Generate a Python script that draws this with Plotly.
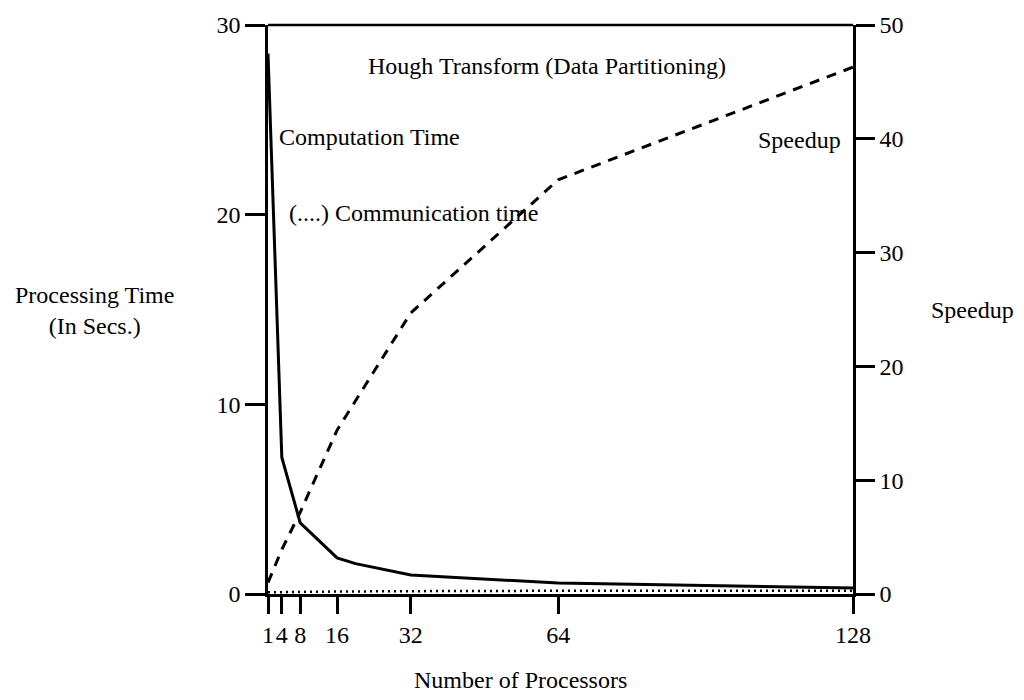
import plotly.graph_objects as go

# Data
proc_comp = [1, 4, 8, 16, 20, 32, 64, 96, 128]
comp_time = [28.5, 7.2, 3.75, 1.9, 1.6, 1.0, 0.58, 0.45, 0.32]

proc_comm = [1, 4, 8, 16, 32, 64, 128]
comm_time = [0.09, 0.1, 0.11, 0.13, 0.15, 0.17, 0.17]

proc_speed = [1, 4, 8, 16, 32, 64, 128]
speedup = [1.0, 3.9, 7.2, 14.4, 24.7, 36.4, 46.3]

x_ticks = [1, 4, 8, 16, 32, 64, 128]
left_ticks = [0, 10, 20, 30]
right_ticks = [0, 10, 20, 30, 40, 50]

FONT = "Liberation Serif"
TXT = 24

fig = go.Figure()
fig.add_trace(go.Scatter(x=proc_comp, y=comp_time, mode="lines",
                         line=dict(color="black", width=3), cliponaxis=False,
                         name="Computation Time"))
fig.add_trace(go.Scatter(x=proc_comm, y=comm_time, mode="lines",
                         line=dict(color="black", width=2.5, dash="2px,4px"), cliponaxis=False,
                         name="Communication time"))
fig.add_trace(go.Scatter(x=proc_speed, y=speedup, mode="lines", yaxis="y2",
                         line=dict(color="black", width=3, dash="10px,8px"), cliponaxis=False,
                         name="Speedup"))

axis_common = dict(showgrid=False, zeroline=False, showline=True, linecolor="black",
                   linewidth=2.5, ticks="outside", tickcolor="black", tickwidth=2.5,
                   automargin=False, tickangle=0,
                   tickfont=dict(family=FONT, size=TXT, color="black"))

fig.update_layout(
    width=1016, height=692,
    margin=dict(l=260, r=171, t=17, b=106),
    paper_bgcolor="white", plot_bgcolor="white",
    showlegend=False,
    font=dict(family=FONT, size=TXT, color="black"),
    xaxis=dict(range=[1, 128], tickvals=x_ticks, ticklen=17, mirror=False, **axis_common),
    yaxis=dict(range=[0, 30], tickvals=left_ticks, ticklen=20, mirror=False, **axis_common),
    yaxis2=dict(range=[0, 50], tickvals=right_ticks, ticklen=19, overlaying="y", side="right",
                **axis_common),
    shapes=[dict(type="line", xref="paper", yref="paper", x0=0, x1=1, y0=1, y1=1,
                 line=dict(color="black", width=2.5))],
    annotations=[
        dict(text="Hough Transform (Data Partitioning)", xref="paper", yref="paper",
             x=0.477, y=0.928, showarrow=False, xanchor="center", yanchor="middle"),
        dict(text="Computation Time", xref="paper", yref="paper",
             x=0.0154, y=0.803, showarrow=False, xanchor="left", yanchor="middle"),
        dict(text="(....) Communication time", xref="paper", yref="paper",
             x=0.0325, y=0.670, showarrow=False, xanchor="left", yanchor="middle"),
        dict(text="Speedup", xref="paper", yref="paper",
             x=0.983, y=0.798, showarrow=False, xanchor="right", yanchor="middle"),
        dict(text="Processing Time<br>(In Secs.)", xref="paper", yref="paper",
             x=-0.297, y=0.499, showarrow=False, xanchor="center", yanchor="middle",
             align="center"),
        dict(text="Speedup", xref="paper", yref="paper",
             x=1.205, y=0.499, showarrow=False, xanchor="center", yanchor="middle"),
        dict(text="Number of Processors", xref="paper", yref="paper",
             x=0.431, y=-0.151, showarrow=False, xanchor="center", yanchor="middle"),
    ],
)

fig.write_html("out.html")
